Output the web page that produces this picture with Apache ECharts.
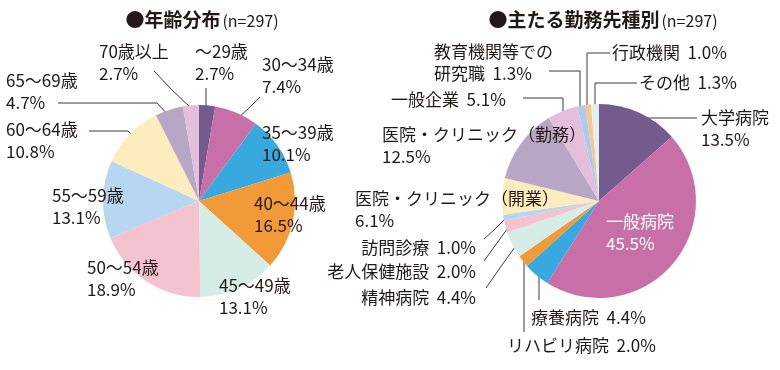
<!DOCTYPE html>
<html><head><meta charset="utf-8">
<script src="https://cdn.jsdelivr.net/npm/echarts@6/dist/echarts.min.js"></script>
<style>html,body{margin:0;padding:0;background:#fff}#c{width:780px;height:370px}</style>
</head><body><div id="c"></div>
<script>
// ---- data ----
const ageTitle = '●年齢分布';
const workTitle = '●主たる勤務先種別';
const sampleNote = '(n=297)';
const ageCategories = ['～29歳','30～34歳','35～39歳','40～44歳','45～49歳','50～54歳','55～59歳','60～64歳','65～69歳','70歳以上'];
const ageValues = [2.7, 7.4, 10.1, 16.5, 13.1, 18.9, 13.1, 10.8, 4.7, 2.7];
const workCategories = ['大学病院','一般病院','療養病院','リハビリ病院','精神病院','老人保健施設','訪問診療','医院・クリニック（開業）','医院・クリニック（勤務）','一般企業','教育機関等での研究職','行政機関','その他'];
const workLabelNames = ['大学病院','一般病院','療養病院','リハビリ病院','精神病院','老人保健施設','訪問診療','医院・クリニック（開業）','医院・クリニック（勤務）','一般企業','教育機関等での\n研究職','行政機関','その他'];
const workValues = [13.5, 45.5, 4.4, 2.0, 4.4, 2.0, 1.0, 6.1, 12.5, 5.1, 1.3, 1.0, 1.3];

// ---- styles / layout ----
const palette10 = ['#735b8e','#c96fa8','#38a9de','#f29a38','#d6ede7','#f5c3d0','#b6d6f1','#fdecbd','#b8a7c4','#e4bfdb'];
const workColors = ['#735b8e','#c96fa8','#38a9de','#f29a38','#d6ede7','#f5c3d0','#b6d6f1','#fdecbd','#b8a7c4','#e4bfdb','#a9cdee','#f7c792','#e3f1ee'];
const FONT = '"Noto Sans CJK JP", "Noto Sans", sans-serif';
const TXT = '#231815';
const LINE = '#3e3a39';

// label placement: [x, yCenter, align, linePoints|null]
const ageLayout = [
  [195, 63, 'left', [[206,88],[206,98],[206,108]]],
  [262, 76, 'left', [[260,97],[249,108],[238,118]]],
  [262, 144, 'left', null],
  [254, 215, 'left', null],
  [219, 297, 'left', null],
  [87, 279, 'left', null],
  [52, 207, 'left', null],
  [6, 141, 'left', [[89,131],[128,131],[136,139]]],
  [6, 92, 'left', [[58,103],[157,103],[170,117]]],
  [99, 63, 'left', [[154,71],[172,90],[191,108]]]
];
// sep: '\n' two-line label, spaces single line
const workSep = ['\n','\n','  ','  ','  ','  ','  ','\n','\n','  ','  ','  ','  '];
const workLayout = [
  [701, 129, 'left', [[633,118],[665,118],[697,118]]],
  [606, 233, 'left', null],
  [531, 318, 'left', [[539,272],[539,286],[539,300]]],
  [507, 346, 'left', [[524,260],[524,296],[524,332]]],
  [476, 298, 'right', [[486,288],[502,265],[518,243]]],
  [476, 272, 'right', [[484,261],[497,243],[510,225]]],
  [476, 248, 'right', [[484,239],[495,229],[505,219]]],
  [355, 210, 'left', null],
  [382, 146, 'left', null],
  [391, 100, 'left', [[523,98],[563,98],[563,120]]],
  [434, 63, 'left', [[549,71],[580,71],[580,110]]],
  [612, 53, 'left', [[610,53],[587,53],[587,108]]],
  [639, 83, 'left', [[637,83],[595,83],[595,108]]]
];

function mkLayout(layout) {
  return function (p) {
    const L = layout[p.dataIndex];
    const r = { x: L[0], y: L[1], align: L[2], verticalAlign: 'middle' };
    if (L[3]) r.labelLinePoints = L[3];
    return r;
  };
}

const ageData = ageCategories.map((n, i) => ({
  name: n, value: ageValues[i],
  itemStyle: { color: palette10[i] },
  labelLine: { show: !!ageLayout[i][3] }
}));
const workData = workCategories.map((n, i) => ({
  name: n, value: workValues[i],
  itemStyle: { color: workColors[i] },
  label: i === 1 ? { color: '#ffffff' } : {},
  labelLine: { show: !!workLayout[i][3] }
}));

const titleStyle = { fontFamily: FONT, fontSize: 19, fontWeight: 'bold', color: TXT,
  rich: { s: { fontFamily: FONT, fontSize: 16, fontWeight: 'normal', color: TXT, padding: [2,0,0,2] } } };

const chart = echarts.init(document.getElementById('c'), null, { renderer: 'canvas' });
chart.setOption({
  animation: false,
  title: [
    { text: ageTitle + '{s|' + sampleNote + '}', left: 197, top: 5, textAlign: 'center', textStyle: titleStyle },
    { text: workTitle + '{s|' + sampleNote + '}', left: 598, top: 5, textAlign: 'center', textStyle: titleStyle }
  ],
  series: [
    {
      type: 'pie', center: [199, 201], radius: [0, 96], startAngle: 90, clockwise: true,
      avoidLabelOverlap: false,
      data: ageData,
      label: { show: true, position: 'outside', fontFamily: FONT, fontSize: 17, color: TXT, lineHeight: 22,
        formatter: p => p.name + '\n' + ageValues[p.dataIndex].toFixed(1) + '%' },
      labelLine: { lineStyle: { color: LINE, width: 1 } },
      labelLayout: mkLayout(ageLayout),
      emphasis: { disabled: true }
    },
    {
      type: 'pie', center: [599, 201], radius: [0, 97], startAngle: 90, clockwise: true,
      avoidLabelOverlap: false,
      data: workData,
      label: { show: true, position: 'outside', fontFamily: FONT, fontSize: 17, color: TXT, lineHeight: 22,
        formatter: p => workLabelNames[p.dataIndex] + workSep[p.dataIndex] + workValues[p.dataIndex].toFixed(1) + '%' },
      labelLine: { lineStyle: { color: LINE, width: 1 } },
      labelLayout: mkLayout(workLayout),
      emphasis: { disabled: true }
    }
  ]
});
</script>
</body></html>
